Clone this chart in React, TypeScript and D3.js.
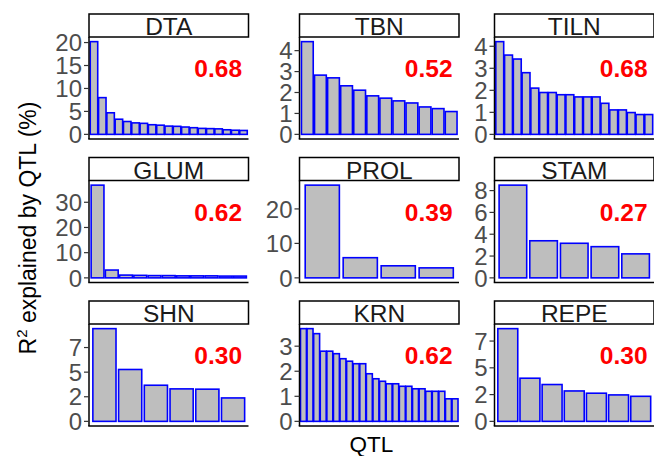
import * as d3 from 'd3';
import { useEffect, useRef } from 'react';

// ── Data ──────────────────────────────────────────────────────────────────
const panelNames = ['DTA', 'TBN', 'TILN', 'GLUM', 'PROL', 'STAM', 'SHN', 'KRN', 'REPE'];
const r2Labels = ['0.68', '0.52', '0.68', '0.62', '0.39', '0.27', '0.30', '0.62', '0.30'];

const dtaValues = [20.2, 8.0, 4.7, 3.3, 2.8, 2.5, 2.4, 2.1, 2.0, 1.8, 1.75, 1.6, 1.45, 1.3, 1.25, 1.2, 1.0, 0.9, 0.85];
const tbnValues = [4.43, 2.83, 2.7, 2.32, 2.11, 1.84, 1.73, 1.6, 1.5, 1.31, 1.23, 1.09];
const tilnValues = [4.21, 3.6, 3.42, 2.8, 2.1, 1.9, 1.9, 1.8, 1.8, 1.7, 1.7, 1.7, 1.41, 1.11, 1.11, 0.99, 0.9, 0.9];
const glumValues = [36.8, 3.1, 1.1, 1.0, 0.9, 0.9, 0.8, 0.8, 0.8, 0.7, 0.7];
const prolValues = [26.9, 5.85, 3.5, 2.9];
const stamValues = [8.5, 3.4, 3.17, 2.86, 2.2];
const shnValues = [9.42, 5.27, 3.67, 3.3, 3.27, 2.38];
const krnValues = [3.7, 3.7, 3.5, 2.8, 2.8, 2.7, 2.5, 2.4, 2.3, 2.3, 1.9, 1.7, 1.6, 1.5, 1.5, 1.4, 1.4, 1.3, 1.3, 1.2, 1.2, 1.2, 0.9, 0.9];
const repeValues = [8.66, 4.03, 3.44, 2.84, 2.63, 2.47, 2.34];

const dtaTicks = [0, 5, 10, 15, 20];
const tbnTicks = [0, 1, 2, 3, 4];
const tilnTicks = [0, 1, 2, 3, 4];
const glumTicks = [0, 10, 20, 30];
const prolTicks = [0, 10, 20];
const stamTicks = [0, 2, 4, 6, 8];
const shnTicks = [0, 2.5, 5, 7.5];
const krnTicks = [0, 1, 2, 3];
const repeTicks = [0, 2.5, 5, 7.5];
const shnTickLabels = ['0', '2', '5', '7'];
const repeTickLabels = ['0', '2', '5', '7'];

const panelValues = [dtaValues, tbnValues, tilnValues, glumValues, prolValues, stamValues, shnValues, krnValues, repeValues];
const panelTicks = [dtaTicks, tbnTicks, tilnTicks, glumTicks, prolTicks, stamTicks, shnTicks, krnTicks, repeTicks];
const panelTickLabels = [null, null, null, null, null, null, shnTickLabels, null, repeTickLabels];

const xTitle = 'QTL';

// ── Layout ────────────────────────────────────────────────────────────────
const W = 654;
const H = 456;
const colLeft = [89, 299.5, 494.5];
const rowTop = [14, 157.5, 301];
const panelW = 159.5;
const stripH = 23;
const panelH = 102;
const FONT = "'Liberation Sans', Arial, Helvetica, sans-serif";

const App = () => {
  const svgRef = useRef(null);

  useEffect(() => {
    const svg = d3.select(svgRef.current);
    svg.selectAll('*').remove();
    svg.append('rect').attr('width', W).attr('height', H).attr('fill', '#fff');

    panelNames.forEach((name, i) => {
      const values = panelValues[i];
      const ticks = panelTicks[i];
      const labels = panelTickLabels[i];
      const x0 = colLeft[i % 3];
      const sTop = rowTop[Math.floor(i / 3)];
      const pTop = sTop + stripH;
      const pBottom = pTop + panelH;

      const g = svg.append('g').attr('font-family', FONT);

      // scales (ggplot-like expansion)
      const max = d3.max(values);
      const y = d3
        .scaleLinear()
        .domain([-0.05 * max, 1.05 * max])
        .range([pBottom, pTop]);
      const x = d3
        .scaleBand()
        .domain(values.map((_, k) => k))
        .range([x0, x0 + panelW])
        .paddingInner(0.1)
        .paddingOuter(0.15);

      // bars
      g.selectAll('rect.bar')
        .data(values)
        .join('rect')
        .attr('class', 'bar')
        .attr('x', (_, k) => x(k))
        .attr('width', x.bandwidth())
        .attr('y', d => y(d))
        .attr('height', d => y(0) - y(d))
        .attr('fill', '#bebebe')
        .attr('stroke', '#0000ff')
        .attr('stroke-width', 1.6);

      // axes lines
      g.append('line').attr('x1', x0).attr('x2', x0).attr('y1', pTop).attr('y2', pBottom).attr('stroke', '#000').attr('stroke-width', 1.5);
      g.append('line').attr('x1', x0 - 0.75).attr('x2', x0 + panelW).attr('y1', pBottom).attr('y2', pBottom).attr('stroke', '#000').attr('stroke-width', 1.5);

      // y ticks
      ticks.forEach((t, k) => {
        const ty = y(t);
        g.append('line').attr('x1', x0 - 5).attr('x2', x0).attr('y1', ty).attr('y2', ty).attr('stroke', '#333').attr('stroke-width', 1.2);
        g.append('text')
          .attr('x', x0 - 7)
          .attr('y', ty)
          .attr('dy', '0.36em')
          .attr('text-anchor', 'end')
          .attr('font-size', 24)
          .attr('fill', '#4d4d4d')
          .text(labels ? labels[k] : String(t));
      });

      // strip
      g.append('rect')
        .attr('x', x0)
        .attr('y', sTop)
        .attr('width', panelW)
        .attr('height', stripH)
        .attr('fill', '#fff')
        .attr('stroke', '#000')
        .attr('stroke-width', 1.5);
      g.append('text')
        .attr('x', x0 + panelW / 2)
        .attr('y', sTop + stripH - 2)
        .attr('text-anchor', 'middle')
        .attr('font-size', 24.5)
        .attr('fill', '#1a1a1a')
        .text(name);

      // R2 label
      g.append('text')
        .attr('x', x0 + panelW * 0.81)
        .attr('y', sTop + 63)
        .attr('text-anchor', 'middle')
        .attr('font-size', 24.5)
        .attr('font-weight', 'bold')
        .attr('fill', '#ff0000')
        .text(r2Labels[i]);
    });

    // axis titles
    const yt = svg
      .append('text')
      .attr('transform', 'translate(36,228) rotate(-90)')
      .attr('text-anchor', 'middle')
      .attr('font-family', FONT)
      .attr('font-size', 23)
      .attr('fill', '#000');
    yt.append('tspan').text('R');
    yt.append('tspan').attr('font-size', 15).attr('dy', -9).text('2');
    yt.append('tspan').attr('dy', 9).text(' explained by QTL (%)');

    svg
      .append('text')
      .attr('x', (colLeft[0] + colLeft[2] + panelW) / 2)
      .attr('y', 452)
      .attr('text-anchor', 'middle')
      .attr('font-family', FONT)
      .attr('font-size', 22.5)
      .attr('fill', '#000')
      .text(xTitle);
  }, []);

  return <svg ref={svgRef} width={W} height={H} style={{ position: 'absolute', left: 0, top: 0, display: 'block' }} />;
};

export default App;
